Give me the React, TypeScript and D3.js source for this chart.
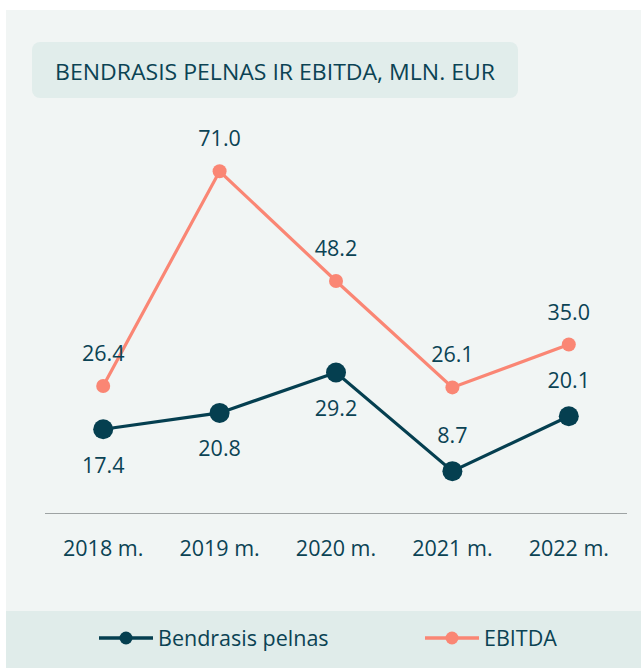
import React from "react";
import * as d3 from "d3";

const categories = ["2018 m.", "2019 m.", "2020 m.", "2021 m.", "2022 m."];
const profit = [17.4, 20.8, 29.2, 8.7, 20.1];
const ebitda = [26.4, 71.0, 48.2, 26.1, 35.0];
const profitLabelSide = ["below", "below", "below", "above", "above"];
const seriesNames = ["Bendrasis pelnas", "EBITDA"];
const title = "BENDRASIS PELNAS IR EBITDA, MLN. EUR";

const W = 641;
const H = 668;
const DARK = "#053f50";
const CORAL = "#fa8674";
const TEXT = "#0b4354";
const FONT = "'Open Sans', 'Noto Sans', sans-serif";
const FS = 21.5;

export default function App() {
  const x = d3.scaleBand().domain(categories).range([45, 627]);
  const y = d3.scaleLinear().domain([0, 80]).range([513, 128]);
  const cx = (c: string) => (x(c) as number) + x.bandwidth() / 2;
  const line = d3
    .line<number>()
    .x((_, i) => cx(categories[i]))
    .y((d) => y(d));

  return (
    <div style={{ position: "absolute", left: 0, top: 0, width: W, height: H }}>
      <svg width={W} height={H} style={{ display: "block" }} fontFamily={FONT}>
        <rect x={0} y={0} width={W} height={H} fill="#ffffff" />
        <rect x={6} y={10} width={W - 6} height={H - 10} fill="#f1f5f4" />
        <rect x={6} y={611} width={W - 6} height={H - 611} fill="#e0ecea" />
        <rect x={32} y={42} width={486} height={56} rx={8} fill="#e1edeb" />
        <text x={55} y={80} fontSize={22.5} fill={TEXT} textLength={440} lengthAdjust="spacingAndGlyphs">
          {title}
        </text>

        <line x1={45} x2={627} y1={513.5} y2={513.5} stroke="#9ea3a3" strokeWidth={1.2} />
        {categories.map((c) => (
          <text key={c} x={cx(c)} y={556} fontSize={FS} fill={TEXT} textAnchor="middle">
            {c}
          </text>
        ))}

        <path d={line(ebitda) || ""} fill="none" stroke={CORAL} strokeWidth={3.2} />
        <path d={line(profit) || ""} fill="none" stroke={DARK} strokeWidth={3.2} />

        {ebitda.map((v, i) => (
          <g key={"e" + i}>
            <circle cx={cx(categories[i])} cy={y(v)} r={7} fill={CORAL} />
            <text x={cx(categories[i])} y={y(v) - 25} fontSize={FS} fill={TEXT} textAnchor="middle">
              {v.toFixed(1)}
            </text>
          </g>
        ))}
        {profit.map((v, i) => (
          <g key={"p" + i}>
            <circle cx={cx(categories[i])} cy={y(v)} r={10} fill={DARK} />
            <text
              x={cx(categories[i])}
              y={profitLabelSide[i] === "below" ? y(v) + 43.5 : y(v) - 28}
              fontSize={FS}
              fill={TEXT}
              textAnchor="middle"
            >
              {v.toFixed(1)}
            </text>
          </g>
        ))}

        <g>
          <line x1={99} x2={153} y1={638} y2={638} stroke={DARK} strokeWidth={3.5} />
          <circle cx={126} cy={638} r={6.5} fill={DARK} />
          <text x={158} y={646} fontSize={FS} fill={TEXT}>
            {seriesNames[0]}
          </text>
          <line x1={425} x2={479} y1={638} y2={638} stroke={CORAL} strokeWidth={3.5} />
          <circle cx={452} cy={638} r={6.5} fill={CORAL} />
          <text x={484} y={646} fontSize={FS} fill={TEXT}>
            {seriesNames[1]}
          </text>
        </g>
      </svg>
    </div>
  );
}
